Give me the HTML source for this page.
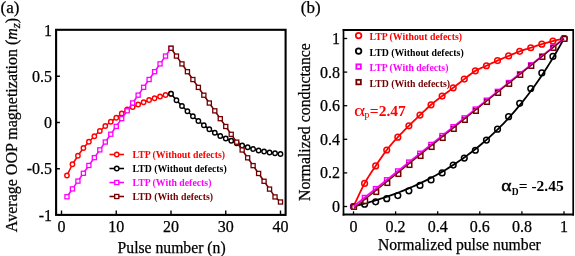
<!DOCTYPE html>
<html><head><meta charset="utf-8"><style>
html,body{margin:0;padding:0;background:#fff;}
svg{display:block;will-change:transform;}
text{font-family:"Liberation Serif",serif;}
.tk text{stroke:#000;stroke-width:0.25px;}
</style></head><body>
<svg width="575" height="256" viewBox="0 0 575 256">
<rect width="575" height="256" fill="#fff"/>
<polyline fill="none" stroke="#ff0000" stroke-width="1.55" stroke-linejoin="round" points="66.97,175.50 72.45,164.25 77.92,155.75 83.40,148.00 88.88,141.75 94.35,136.25 99.82,131.00 105.30,126.00 110.78,121.75 116.25,117.75 121.72,113.50 127.20,109.50 132.68,107.00 138.15,104.50 143.62,102.25 149.10,100.00 154.57,98.25 160.05,96.50 165.52,95.00 171.00,93.75"/>
<circle cx="66.97" cy="175.50" r="2.2" fill="#fff" stroke="#ff0000" stroke-width="1.4"/>
<circle cx="72.45" cy="164.25" r="2.2" fill="#fff" stroke="#ff0000" stroke-width="1.4"/>
<circle cx="77.92" cy="155.75" r="2.2" fill="#fff" stroke="#ff0000" stroke-width="1.4"/>
<circle cx="83.40" cy="148.00" r="2.2" fill="#fff" stroke="#ff0000" stroke-width="1.4"/>
<circle cx="88.88" cy="141.75" r="2.2" fill="#fff" stroke="#ff0000" stroke-width="1.4"/>
<circle cx="94.35" cy="136.25" r="2.2" fill="#fff" stroke="#ff0000" stroke-width="1.4"/>
<circle cx="99.82" cy="131.00" r="2.2" fill="#fff" stroke="#ff0000" stroke-width="1.4"/>
<circle cx="105.30" cy="126.00" r="2.2" fill="#fff" stroke="#ff0000" stroke-width="1.4"/>
<circle cx="110.78" cy="121.75" r="2.2" fill="#fff" stroke="#ff0000" stroke-width="1.4"/>
<circle cx="116.25" cy="117.75" r="2.2" fill="#fff" stroke="#ff0000" stroke-width="1.4"/>
<circle cx="121.72" cy="113.50" r="2.2" fill="#fff" stroke="#ff0000" stroke-width="1.4"/>
<circle cx="127.20" cy="109.50" r="2.2" fill="#fff" stroke="#ff0000" stroke-width="1.4"/>
<circle cx="132.68" cy="107.00" r="2.2" fill="#fff" stroke="#ff0000" stroke-width="1.4"/>
<circle cx="138.15" cy="104.50" r="2.2" fill="#fff" stroke="#ff0000" stroke-width="1.4"/>
<circle cx="143.62" cy="102.25" r="2.2" fill="#fff" stroke="#ff0000" stroke-width="1.4"/>
<circle cx="149.10" cy="100.00" r="2.2" fill="#fff" stroke="#ff0000" stroke-width="1.4"/>
<circle cx="154.57" cy="98.25" r="2.2" fill="#fff" stroke="#ff0000" stroke-width="1.4"/>
<circle cx="160.05" cy="96.50" r="2.2" fill="#fff" stroke="#ff0000" stroke-width="1.4"/>
<circle cx="165.52" cy="95.00" r="2.2" fill="#fff" stroke="#ff0000" stroke-width="1.4"/>
<circle cx="171.00" cy="93.75" r="2.2" fill="#fff" stroke="#ff0000" stroke-width="1.4"/>
<polyline fill="none" stroke="#ff00ff" stroke-width="1.55" stroke-linejoin="round" points="66.97,196.75 72.45,188.93 77.92,181.12 83.40,173.30 88.88,165.49 94.35,157.67 99.82,149.86 105.30,142.04 110.78,134.22 116.25,126.41 121.72,118.59 127.20,110.78 132.68,102.96 138.15,95.14 143.62,87.33 149.10,79.51 154.57,71.70 160.05,63.88 165.52,56.07 171.00,48.25"/>
<rect x="64.92" y="194.70" width="4.1" height="4.1" fill="#fff" stroke="#ff00ff" stroke-width="1.3"/>
<rect x="70.40" y="186.88" width="4.1" height="4.1" fill="#fff" stroke="#ff00ff" stroke-width="1.3"/>
<rect x="75.88" y="179.07" width="4.1" height="4.1" fill="#fff" stroke="#ff00ff" stroke-width="1.3"/>
<rect x="81.35" y="171.25" width="4.1" height="4.1" fill="#fff" stroke="#ff00ff" stroke-width="1.3"/>
<rect x="86.83" y="163.44" width="4.1" height="4.1" fill="#fff" stroke="#ff00ff" stroke-width="1.3"/>
<rect x="92.30" y="155.62" width="4.1" height="4.1" fill="#fff" stroke="#ff00ff" stroke-width="1.3"/>
<rect x="97.77" y="147.81" width="4.1" height="4.1" fill="#fff" stroke="#ff00ff" stroke-width="1.3"/>
<rect x="103.25" y="139.99" width="4.1" height="4.1" fill="#fff" stroke="#ff00ff" stroke-width="1.3"/>
<rect x="108.73" y="132.17" width="4.1" height="4.1" fill="#fff" stroke="#ff00ff" stroke-width="1.3"/>
<rect x="114.20" y="124.36" width="4.1" height="4.1" fill="#fff" stroke="#ff00ff" stroke-width="1.3"/>
<rect x="119.67" y="116.54" width="4.1" height="4.1" fill="#fff" stroke="#ff00ff" stroke-width="1.3"/>
<rect x="125.15" y="108.73" width="4.1" height="4.1" fill="#fff" stroke="#ff00ff" stroke-width="1.3"/>
<rect x="130.62" y="100.91" width="4.1" height="4.1" fill="#fff" stroke="#ff00ff" stroke-width="1.3"/>
<rect x="136.10" y="93.09" width="4.1" height="4.1" fill="#fff" stroke="#ff00ff" stroke-width="1.3"/>
<rect x="141.57" y="85.28" width="4.1" height="4.1" fill="#fff" stroke="#ff00ff" stroke-width="1.3"/>
<rect x="147.05" y="77.46" width="4.1" height="4.1" fill="#fff" stroke="#ff00ff" stroke-width="1.3"/>
<rect x="152.52" y="69.65" width="4.1" height="4.1" fill="#fff" stroke="#ff00ff" stroke-width="1.3"/>
<rect x="158.00" y="61.83" width="4.1" height="4.1" fill="#fff" stroke="#ff00ff" stroke-width="1.3"/>
<rect x="163.47" y="54.02" width="4.1" height="4.1" fill="#fff" stroke="#ff00ff" stroke-width="1.3"/>
<rect x="168.95" y="46.20" width="4.1" height="4.1" fill="#fff" stroke="#ff00ff" stroke-width="1.3"/>
<polyline fill="none" stroke="#000000" stroke-width="1.55" stroke-linejoin="round" points="171.00,93.75 176.47,100.25 181.95,106.00 187.43,111.25 192.90,116.25 198.38,121.00 203.85,125.25 209.32,129.25 214.80,132.75 220.27,136.00 225.75,138.50 231.22,140.75 236.70,143.25 242.17,145.50 247.65,147.25 253.12,149.00 258.60,150.50 264.07,151.50 269.55,152.50 275.02,153.25 280.50,154.00"/>
<circle cx="171.00" cy="93.75" r="2.2" fill="#fff" stroke="#000000" stroke-width="1.4"/>
<circle cx="176.47" cy="100.25" r="2.2" fill="#fff" stroke="#000000" stroke-width="1.4"/>
<circle cx="181.95" cy="106.00" r="2.2" fill="#fff" stroke="#000000" stroke-width="1.4"/>
<circle cx="187.43" cy="111.25" r="2.2" fill="#fff" stroke="#000000" stroke-width="1.4"/>
<circle cx="192.90" cy="116.25" r="2.2" fill="#fff" stroke="#000000" stroke-width="1.4"/>
<circle cx="198.38" cy="121.00" r="2.2" fill="#fff" stroke="#000000" stroke-width="1.4"/>
<circle cx="203.85" cy="125.25" r="2.2" fill="#fff" stroke="#000000" stroke-width="1.4"/>
<circle cx="209.32" cy="129.25" r="2.2" fill="#fff" stroke="#000000" stroke-width="1.4"/>
<circle cx="214.80" cy="132.75" r="2.2" fill="#fff" stroke="#000000" stroke-width="1.4"/>
<circle cx="220.27" cy="136.00" r="2.2" fill="#fff" stroke="#000000" stroke-width="1.4"/>
<circle cx="225.75" cy="138.50" r="2.2" fill="#fff" stroke="#000000" stroke-width="1.4"/>
<circle cx="231.22" cy="140.75" r="2.2" fill="#fff" stroke="#000000" stroke-width="1.4"/>
<circle cx="236.70" cy="143.25" r="2.2" fill="#fff" stroke="#000000" stroke-width="1.4"/>
<circle cx="242.17" cy="145.50" r="2.2" fill="#fff" stroke="#000000" stroke-width="1.4"/>
<circle cx="247.65" cy="147.25" r="2.2" fill="#fff" stroke="#000000" stroke-width="1.4"/>
<circle cx="253.12" cy="149.00" r="2.2" fill="#fff" stroke="#000000" stroke-width="1.4"/>
<circle cx="258.60" cy="150.50" r="2.2" fill="#fff" stroke="#000000" stroke-width="1.4"/>
<circle cx="264.07" cy="151.50" r="2.2" fill="#fff" stroke="#000000" stroke-width="1.4"/>
<circle cx="269.55" cy="152.50" r="2.2" fill="#fff" stroke="#000000" stroke-width="1.4"/>
<circle cx="275.02" cy="153.25" r="2.2" fill="#fff" stroke="#000000" stroke-width="1.4"/>
<circle cx="280.50" cy="154.00" r="2.2" fill="#fff" stroke="#000000" stroke-width="1.4"/>
<polyline fill="none" stroke="#730000" stroke-width="1.55" stroke-linejoin="round" points="171.00,48.25 176.47,56.08 181.95,63.90 187.43,71.72 192.90,79.55 198.38,87.38 203.85,95.20 209.32,103.03 214.80,110.85 220.27,118.67 225.75,126.50 231.22,134.32 236.70,142.15 242.17,149.98 247.65,157.80 253.12,165.62 258.60,173.45 264.07,181.28 269.55,189.10 275.02,196.93 280.50,202.00"/>
<rect x="168.95" y="46.20" width="4.1" height="4.1" fill="#fff" stroke="#730000" stroke-width="1.3"/>
<rect x="174.42" y="54.03" width="4.1" height="4.1" fill="#fff" stroke="#730000" stroke-width="1.3"/>
<rect x="179.90" y="61.85" width="4.1" height="4.1" fill="#fff" stroke="#730000" stroke-width="1.3"/>
<rect x="185.38" y="69.67" width="4.1" height="4.1" fill="#fff" stroke="#730000" stroke-width="1.3"/>
<rect x="190.85" y="77.50" width="4.1" height="4.1" fill="#fff" stroke="#730000" stroke-width="1.3"/>
<rect x="196.32" y="85.33" width="4.1" height="4.1" fill="#fff" stroke="#730000" stroke-width="1.3"/>
<rect x="201.80" y="93.15" width="4.1" height="4.1" fill="#fff" stroke="#730000" stroke-width="1.3"/>
<rect x="207.27" y="100.98" width="4.1" height="4.1" fill="#fff" stroke="#730000" stroke-width="1.3"/>
<rect x="212.75" y="108.80" width="4.1" height="4.1" fill="#fff" stroke="#730000" stroke-width="1.3"/>
<rect x="218.22" y="116.62" width="4.1" height="4.1" fill="#fff" stroke="#730000" stroke-width="1.3"/>
<rect x="223.70" y="124.45" width="4.1" height="4.1" fill="#fff" stroke="#730000" stroke-width="1.3"/>
<rect x="229.17" y="132.27" width="4.1" height="4.1" fill="#fff" stroke="#730000" stroke-width="1.3"/>
<rect x="234.65" y="140.10" width="4.1" height="4.1" fill="#fff" stroke="#730000" stroke-width="1.3"/>
<rect x="240.12" y="147.93" width="4.1" height="4.1" fill="#fff" stroke="#730000" stroke-width="1.3"/>
<rect x="245.60" y="155.75" width="4.1" height="4.1" fill="#fff" stroke="#730000" stroke-width="1.3"/>
<rect x="251.07" y="163.57" width="4.1" height="4.1" fill="#fff" stroke="#730000" stroke-width="1.3"/>
<rect x="256.55" y="171.40" width="4.1" height="4.1" fill="#fff" stroke="#730000" stroke-width="1.3"/>
<rect x="262.02" y="179.22" width="4.1" height="4.1" fill="#fff" stroke="#730000" stroke-width="1.3"/>
<rect x="267.50" y="187.05" width="4.1" height="4.1" fill="#fff" stroke="#730000" stroke-width="1.3"/>
<rect x="272.97" y="194.88" width="4.1" height="4.1" fill="#fff" stroke="#730000" stroke-width="1.3"/>
<rect x="278.45" y="199.95" width="4.1" height="4.1" fill="#fff" stroke="#730000" stroke-width="1.3"/>
<polyline fill="none" stroke="#ff0000" stroke-width="1.8" stroke-linejoin="round" points="353.50,206.50 354.35,204.68 355.49,202.21 356.84,199.28 358.35,196.03 359.94,192.65 361.55,189.31 363.12,186.16 364.58,183.38 365.96,180.92 367.35,178.58 368.73,176.35 370.12,174.20 371.50,172.10 372.89,170.04 374.27,167.98 375.66,165.91 377.04,163.83 378.43,161.75 379.81,159.69 381.20,157.66 382.58,155.67 383.97,153.72 385.35,151.82 386.74,149.99 388.12,148.22 389.51,146.52 390.89,144.88 392.28,143.28 393.66,141.71 395.05,140.17 396.43,138.65 397.82,137.14 399.20,135.65 400.59,134.20 401.97,132.77 403.36,131.36 404.74,129.97 406.12,128.59 407.51,127.22 408.89,125.84 410.28,124.46 411.66,123.09 413.05,121.73 414.43,120.38 415.82,119.04 417.20,117.70 418.59,116.37 419.97,115.05 421.36,113.73 422.74,112.41 424.13,111.09 425.51,109.78 426.90,108.49 428.28,107.22 429.67,105.98 431.05,104.78 432.44,103.61 433.82,102.47 435.21,101.36 436.59,100.28 437.98,99.21 439.36,98.15 440.75,97.10 442.13,96.04 443.52,94.99 444.90,93.96 446.29,92.94 447.67,91.93 449.06,90.92 450.44,89.90 451.83,88.87 453.21,87.82 454.60,86.75 455.98,85.66 457.37,84.56 458.75,83.45 460.13,82.35 461.52,81.25 462.90,80.16 464.29,79.09 465.67,78.01 467.06,76.92 468.44,75.83 469.83,74.75 471.21,73.70 472.60,72.69 473.98,71.74 475.37,70.87 476.75,70.08 478.14,69.37 479.52,68.71 480.91,68.11 482.29,67.52 483.68,66.94 485.06,66.35 486.45,65.73 487.83,65.08 489.22,64.43 490.60,63.78 491.99,63.13 493.37,62.48 494.76,61.84 496.14,61.21 497.53,60.59 498.91,59.99 500.30,59.40 501.68,58.82 503.07,58.25 504.45,57.68 505.84,57.11 507.22,56.54 508.61,55.97 509.99,55.38 511.38,54.79 512.76,54.19 514.14,53.59 515.53,53.00 516.91,52.43 518.30,51.87 519.68,51.34 521.07,50.85 522.45,50.37 523.84,49.92 525.22,49.48 526.61,49.05 527.99,48.62 529.38,48.19 530.76,47.75 532.15,47.29 533.53,46.84 534.92,46.38 536.30,45.92 537.69,45.46 539.07,45.01 540.46,44.58 541.84,44.15 543.23,43.74 544.61,43.33 546.00,42.94 547.38,42.55 548.77,42.16 550.15,41.79 551.54,41.43 552.92,41.07 554.38,40.71 555.95,40.33 557.56,39.95 559.15,39.59 560.66,39.25 562.01,38.95 563.15,38.69 564.00,38.50"/>
<circle cx="353.50" cy="206.50" r="2.85" fill="none" stroke="#ff0000" stroke-width="1.5"/>
<circle cx="364.58" cy="183.38" r="2.85" fill="none" stroke="#ff0000" stroke-width="1.5"/>
<circle cx="375.66" cy="165.91" r="2.85" fill="none" stroke="#ff0000" stroke-width="1.5"/>
<circle cx="386.74" cy="149.99" r="2.85" fill="none" stroke="#ff0000" stroke-width="1.5"/>
<circle cx="397.82" cy="137.14" r="2.85" fill="none" stroke="#ff0000" stroke-width="1.5"/>
<circle cx="408.89" cy="125.84" r="2.85" fill="none" stroke="#ff0000" stroke-width="1.5"/>
<circle cx="419.97" cy="115.05" r="2.85" fill="none" stroke="#ff0000" stroke-width="1.5"/>
<circle cx="431.05" cy="104.78" r="2.85" fill="none" stroke="#ff0000" stroke-width="1.5"/>
<circle cx="442.13" cy="96.04" r="2.85" fill="none" stroke="#ff0000" stroke-width="1.5"/>
<circle cx="453.21" cy="87.82" r="2.85" fill="none" stroke="#ff0000" stroke-width="1.5"/>
<circle cx="464.29" cy="79.09" r="2.85" fill="none" stroke="#ff0000" stroke-width="1.5"/>
<circle cx="475.37" cy="70.87" r="2.85" fill="none" stroke="#ff0000" stroke-width="1.5"/>
<circle cx="486.45" cy="65.73" r="2.85" fill="none" stroke="#ff0000" stroke-width="1.5"/>
<circle cx="497.53" cy="60.59" r="2.85" fill="none" stroke="#ff0000" stroke-width="1.5"/>
<circle cx="508.61" cy="55.97" r="2.85" fill="none" stroke="#ff0000" stroke-width="1.5"/>
<circle cx="519.68" cy="51.34" r="2.85" fill="none" stroke="#ff0000" stroke-width="1.5"/>
<circle cx="530.76" cy="47.75" r="2.85" fill="none" stroke="#ff0000" stroke-width="1.5"/>
<circle cx="541.84" cy="44.15" r="2.85" fill="none" stroke="#ff0000" stroke-width="1.5"/>
<circle cx="552.92" cy="41.07" r="2.85" fill="none" stroke="#ff0000" stroke-width="1.5"/>
<circle cx="564.00" cy="38.50" r="2.85" fill="none" stroke="#ff0000" stroke-width="1.5"/>
<polyline fill="none" stroke="#000000" stroke-width="1.8" stroke-linejoin="round" points="353.50,206.50 355.61,205.97 357.71,205.43 359.81,204.87 361.92,204.31 364.02,203.73 366.13,203.15 368.24,202.55 370.34,201.94 372.44,201.31 374.55,200.68 376.65,200.03 378.76,199.37 380.87,198.69 382.97,198.00 385.07,197.30 387.18,196.58 389.29,195.85 391.39,195.11 393.50,194.34 395.60,193.57 397.70,192.78 399.81,191.97 401.92,191.14 404.02,190.30 406.12,189.44 408.23,188.57 410.33,187.67 412.44,186.76 414.55,185.83 416.65,184.88 418.75,183.91 420.86,182.93 422.97,181.92 425.07,180.89 427.18,179.84 429.28,178.77 431.38,177.68 433.49,176.57 435.60,175.43 437.70,174.27 439.81,173.09 441.91,171.89 444.01,170.66 446.12,169.40 448.23,168.12 450.33,166.81 452.44,165.48 454.54,164.12 456.64,162.73 458.75,161.32 460.86,159.87 462.96,158.40 465.06,156.90 467.17,155.36 469.27,153.80 471.38,152.20 473.49,150.58 475.59,148.92 477.69,147.22 479.80,145.49 481.90,143.73 484.01,141.93 486.12,140.09 488.22,138.22 490.33,136.31 492.43,134.36 494.53,132.37 496.64,130.34 498.75,128.28 500.85,126.16 502.95,124.01 505.06,121.81 507.16,119.57 509.27,117.28 511.38,114.95 513.48,112.57 515.59,110.14 517.69,107.66 519.80,105.13 521.90,102.56 524.00,99.92 526.11,97.24 528.22,94.50 530.32,91.71 532.42,88.86 534.53,85.95 536.63,82.98 538.74,79.96 540.85,76.87 542.95,73.72 545.06,70.51 547.16,67.23 549.26,63.88 551.37,60.47 553.48,56.99 555.58,53.44 557.68,49.81 559.79,46.12 561.89,42.35 564.00,38.50"/>
<circle cx="564.00" cy="38.50" r="2.85" fill="none" stroke="#000000" stroke-width="1.5"/>
<circle cx="552.92" cy="56.47" r="2.85" fill="none" stroke="#000000" stroke-width="1.5"/>
<circle cx="541.84" cy="72.88" r="2.85" fill="none" stroke="#000000" stroke-width="1.5"/>
<circle cx="530.76" cy="88.51" r="2.85" fill="none" stroke="#000000" stroke-width="1.5"/>
<circle cx="519.68" cy="103.36" r="2.85" fill="none" stroke="#000000" stroke-width="1.5"/>
<circle cx="508.61" cy="116.64" r="2.85" fill="none" stroke="#000000" stroke-width="1.5"/>
<circle cx="497.53" cy="129.14" r="2.85" fill="none" stroke="#000000" stroke-width="1.5"/>
<circle cx="486.45" cy="140.08" r="2.85" fill="none" stroke="#000000" stroke-width="1.5"/>
<circle cx="475.37" cy="150.24" r="2.85" fill="none" stroke="#000000" stroke-width="1.5"/>
<circle cx="464.29" cy="158.05" r="2.85" fill="none" stroke="#000000" stroke-width="1.5"/>
<circle cx="453.21" cy="165.09" r="2.85" fill="none" stroke="#000000" stroke-width="1.5"/>
<circle cx="442.13" cy="172.90" r="2.85" fill="none" stroke="#000000" stroke-width="1.5"/>
<circle cx="431.05" cy="179.93" r="2.85" fill="none" stroke="#000000" stroke-width="1.5"/>
<circle cx="419.97" cy="185.40" r="2.85" fill="none" stroke="#000000" stroke-width="1.5"/>
<circle cx="408.89" cy="190.87" r="2.85" fill="none" stroke="#000000" stroke-width="1.5"/>
<circle cx="397.82" cy="195.56" r="2.85" fill="none" stroke="#000000" stroke-width="1.5"/>
<circle cx="386.74" cy="198.69" r="2.85" fill="none" stroke="#000000" stroke-width="1.5"/>
<circle cx="375.66" cy="201.81" r="2.85" fill="none" stroke="#000000" stroke-width="1.5"/>
<circle cx="364.58" cy="204.16" r="2.85" fill="none" stroke="#000000" stroke-width="1.5"/>
<circle cx="353.50" cy="206.50" r="2.85" fill="none" stroke="#000000" stroke-width="1.5"/>
<rect x="351.30" y="204.30" width="4.4" height="4.4" fill="none" stroke="#ff00ff" stroke-width="1.4"/>
<rect x="362.38" y="195.46" width="4.4" height="4.4" fill="none" stroke="#ff00ff" stroke-width="1.4"/>
<rect x="373.46" y="186.62" width="4.4" height="4.4" fill="none" stroke="#ff00ff" stroke-width="1.4"/>
<rect x="384.54" y="177.77" width="4.4" height="4.4" fill="none" stroke="#ff00ff" stroke-width="1.4"/>
<rect x="395.62" y="168.93" width="4.4" height="4.4" fill="none" stroke="#ff00ff" stroke-width="1.4"/>
<rect x="406.69" y="160.09" width="4.4" height="4.4" fill="none" stroke="#ff00ff" stroke-width="1.4"/>
<rect x="417.77" y="151.25" width="4.4" height="4.4" fill="none" stroke="#ff00ff" stroke-width="1.4"/>
<rect x="428.85" y="142.41" width="4.4" height="4.4" fill="none" stroke="#ff00ff" stroke-width="1.4"/>
<rect x="439.93" y="133.56" width="4.4" height="4.4" fill="none" stroke="#ff00ff" stroke-width="1.4"/>
<rect x="451.01" y="124.72" width="4.4" height="4.4" fill="none" stroke="#ff00ff" stroke-width="1.4"/>
<rect x="462.09" y="115.88" width="4.4" height="4.4" fill="none" stroke="#ff00ff" stroke-width="1.4"/>
<rect x="473.17" y="107.04" width="4.4" height="4.4" fill="none" stroke="#ff00ff" stroke-width="1.4"/>
<rect x="484.25" y="98.19" width="4.4" height="4.4" fill="none" stroke="#ff00ff" stroke-width="1.4"/>
<rect x="495.33" y="89.35" width="4.4" height="4.4" fill="none" stroke="#ff00ff" stroke-width="1.4"/>
<rect x="506.41" y="80.51" width="4.4" height="4.4" fill="none" stroke="#ff00ff" stroke-width="1.4"/>
<rect x="517.48" y="71.67" width="4.4" height="4.4" fill="none" stroke="#ff00ff" stroke-width="1.4"/>
<rect x="528.56" y="62.83" width="4.4" height="4.4" fill="none" stroke="#ff00ff" stroke-width="1.4"/>
<rect x="539.64" y="53.98" width="4.4" height="4.4" fill="none" stroke="#ff00ff" stroke-width="1.4"/>
<rect x="550.72" y="45.14" width="4.4" height="4.4" fill="none" stroke="#ff00ff" stroke-width="1.4"/>
<rect x="561.80" y="36.30" width="4.4" height="4.4" fill="none" stroke="#ff00ff" stroke-width="1.4"/>
<rect x="562.30" y="36.60" width="4.6000000000000005" height="4.6000000000000005" fill="#fff" stroke="#730000" stroke-width="1.5"/>
<rect x="551.22" y="45.61" width="4.6000000000000005" height="4.6000000000000005" fill="#fff" stroke="#730000" stroke-width="1.5"/>
<rect x="540.14" y="54.62" width="4.6000000000000005" height="4.6000000000000005" fill="#fff" stroke="#730000" stroke-width="1.5"/>
<rect x="529.06" y="63.63" width="4.6000000000000005" height="4.6000000000000005" fill="#fff" stroke="#730000" stroke-width="1.5"/>
<rect x="517.98" y="72.63" width="4.6000000000000005" height="4.6000000000000005" fill="#fff" stroke="#730000" stroke-width="1.5"/>
<rect x="506.91" y="81.64" width="4.6000000000000005" height="4.6000000000000005" fill="#fff" stroke="#730000" stroke-width="1.5"/>
<rect x="495.83" y="90.65" width="4.6000000000000005" height="4.6000000000000005" fill="#fff" stroke="#730000" stroke-width="1.5"/>
<rect x="484.75" y="99.66" width="4.6000000000000005" height="4.6000000000000005" fill="#fff" stroke="#730000" stroke-width="1.5"/>
<rect x="473.67" y="108.67" width="4.6000000000000005" height="4.6000000000000005" fill="#fff" stroke="#730000" stroke-width="1.5"/>
<rect x="462.59" y="117.68" width="4.6000000000000005" height="4.6000000000000005" fill="#fff" stroke="#730000" stroke-width="1.5"/>
<rect x="451.51" y="126.69" width="4.6000000000000005" height="4.6000000000000005" fill="#fff" stroke="#730000" stroke-width="1.5"/>
<rect x="440.43" y="135.70" width="4.6000000000000005" height="4.6000000000000005" fill="#fff" stroke="#730000" stroke-width="1.5"/>
<rect x="429.35" y="144.70" width="4.6000000000000005" height="4.6000000000000005" fill="#fff" stroke="#730000" stroke-width="1.5"/>
<rect x="418.27" y="153.71" width="4.6000000000000005" height="4.6000000000000005" fill="#fff" stroke="#730000" stroke-width="1.5"/>
<rect x="407.19" y="162.72" width="4.6000000000000005" height="4.6000000000000005" fill="#fff" stroke="#730000" stroke-width="1.5"/>
<rect x="396.12" y="171.73" width="4.6000000000000005" height="4.6000000000000005" fill="#fff" stroke="#730000" stroke-width="1.5"/>
<rect x="385.04" y="180.74" width="4.6000000000000005" height="4.6000000000000005" fill="#fff" stroke="#730000" stroke-width="1.5"/>
<rect x="373.96" y="189.75" width="4.6000000000000005" height="4.6000000000000005" fill="#fff" stroke="#730000" stroke-width="1.5"/>
<rect x="362.88" y="198.76" width="4.6000000000000005" height="4.6000000000000005" fill="#fff" stroke="#730000" stroke-width="1.5"/>
<rect x="351.80" y="204.60" width="4.6000000000000005" height="4.6000000000000005" fill="#fff" stroke="#730000" stroke-width="1.5"/>
<polyline fill="none" stroke="#ff00ff" stroke-width="1.9" stroke-linejoin="round" points="353.50,206.50 564.00,38.50"/>
<polyline fill="none" stroke="#730000" stroke-width="1.1" stroke-linejoin="round" points="354.00,208.30 564.00,38.70"/>
<rect x="56.1" y="29.8" width="229.5" height="185.1" fill="none" stroke="#000" stroke-width="2.1"/>
<line x1="61.50" y1="214" x2="61.50" y2="210.5" stroke="#000" stroke-width="1.4"/>
<line x1="116.25" y1="214" x2="116.25" y2="210.5" stroke="#000" stroke-width="1.4"/>
<line x1="171.00" y1="214" x2="171.00" y2="210.5" stroke="#000" stroke-width="1.4"/>
<line x1="225.75" y1="214" x2="225.75" y2="210.5" stroke="#000" stroke-width="1.4"/>
<line x1="280.50" y1="214" x2="280.50" y2="210.5" stroke="#000" stroke-width="1.4"/>
<line x1="57" y1="76.25" x2="59.9" y2="76.25" stroke="#000" stroke-width="1.5"/>
<line x1="57" y1="122.50" x2="59.9" y2="122.50" stroke="#000" stroke-width="1.5"/>
<line x1="57" y1="168.75" x2="59.9" y2="168.75" stroke="#000" stroke-width="1.5"/>
<line x1="343.5" y1="29" x2="343.5" y2="215.6" stroke="#000" stroke-width="1.7"/>
<line x1="573.2" y1="29" x2="573.2" y2="215.6" stroke="#000" stroke-width="1.7"/>
<line x1="342.7" y1="30" x2="574" y2="30" stroke="#000" stroke-width="2"/>
<line x1="342.7" y1="214.6" x2="574" y2="214.6" stroke="#000" stroke-width="2"/>
<line x1="353.50" y1="214" x2="353.50" y2="211.3" stroke="#000" stroke-width="1.3"/>
<line x1="344" y1="206.50" x2="347.2" y2="206.50" stroke="#000" stroke-width="1.3"/>
<line x1="395.60" y1="214" x2="395.60" y2="211.3" stroke="#000" stroke-width="1.3"/>
<line x1="344" y1="172.90" x2="347.2" y2="172.90" stroke="#000" stroke-width="1.3"/>
<line x1="437.70" y1="214" x2="437.70" y2="211.3" stroke="#000" stroke-width="1.3"/>
<line x1="344" y1="139.30" x2="347.2" y2="139.30" stroke="#000" stroke-width="1.3"/>
<line x1="479.80" y1="214" x2="479.80" y2="211.3" stroke="#000" stroke-width="1.3"/>
<line x1="344" y1="105.70" x2="347.2" y2="105.70" stroke="#000" stroke-width="1.3"/>
<line x1="521.90" y1="214" x2="521.90" y2="211.3" stroke="#000" stroke-width="1.3"/>
<line x1="344" y1="72.10" x2="347.2" y2="72.10" stroke="#000" stroke-width="1.3"/>
<line x1="564.00" y1="214" x2="564.00" y2="211.3" stroke="#000" stroke-width="1.3"/>
<line x1="344" y1="38.50" x2="347.2" y2="38.50" stroke="#000" stroke-width="1.3"/>
<g class="tk">
<text x="61.50" y="232" text-anchor="middle" font-size="16" >0</text>
<text x="116.25" y="232" text-anchor="middle" font-size="16" >10</text>
<text x="171.00" y="232" text-anchor="middle" font-size="16" >20</text>
<text x="225.75" y="232" text-anchor="middle" font-size="16" >30</text>
<text x="280.50" y="232" text-anchor="middle" font-size="16" >40</text>
<text x="52" y="35.50" text-anchor="end" font-size="16" >1</text>
<text x="52" y="81.75" text-anchor="end" font-size="16" >0.5</text>
<text x="52" y="128.00" text-anchor="end" font-size="16" >0</text>
<text x="52" y="174.25" text-anchor="end" font-size="16" >-0.5</text>
<text x="52" y="220.50" text-anchor="end" font-size="16" >-1</text>
<text x="171.6" y="252.5" text-anchor="middle" font-size="15.7" >Pulse number (n)</text>
<text transform="translate(17,125) rotate(-90)" text-anchor="middle" font-size="16">Average OOP magnetization (<tspan font-style="italic">m</tspan><tspan font-style="italic" font-size="13" dy="2.5">z</tspan><tspan dy="-2.5">)</tspan></text>
<text x="0.5" y="12.8" text-anchor="start" font-size="17" >(a)</text>
<text x="300.8" y="13" text-anchor="start" font-size="17" >(b)</text>
<text x="353.50" y="232" text-anchor="middle" font-size="16" >0</text>
<text x="340" y="212.00" text-anchor="end" font-size="16" >0</text>
<text x="395.60" y="232" text-anchor="middle" font-size="16" >0.2</text>
<text x="340" y="178.40" text-anchor="end" font-size="16" >0.2</text>
<text x="437.70" y="232" text-anchor="middle" font-size="16" >0.4</text>
<text x="340" y="144.80" text-anchor="end" font-size="16" >0.4</text>
<text x="479.80" y="232" text-anchor="middle" font-size="16" >0.6</text>
<text x="340" y="111.20" text-anchor="end" font-size="16" >0.6</text>
<text x="521.90" y="232" text-anchor="middle" font-size="16" >0.8</text>
<text x="340" y="77.60" text-anchor="end" font-size="16" >0.8</text>
<text x="564.00" y="232" text-anchor="middle" font-size="16" >1</text>
<text x="340" y="44.00" text-anchor="end" font-size="16" >1</text>
<text x="459.4" y="250" text-anchor="middle" font-size="15.7" >Normalized pulse number</text>
<text transform="translate(310.2,122.1) rotate(-90)" text-anchor="middle" font-size="15.85">Normalized conductance</text>
</g>
<polyline fill="none" stroke="#ff0000" stroke-width="1.55" stroke-linejoin="round" points="109.50,154.50 124.00,154.50"/>
<circle cx="116.75" cy="154.50" r="2.2" fill="#fff" stroke="#ff0000" stroke-width="1.4"/>
<text x="132.5" y="158.10" font-size="9.8" font-weight="bold" fill="#ff0000">LTP (Without defects)</text>
<polyline fill="none" stroke="#000000" stroke-width="1.55" stroke-linejoin="round" points="109.50,168.50 124.00,168.50"/>
<circle cx="116.75" cy="168.50" r="2.2" fill="#fff" stroke="#000000" stroke-width="1.4"/>
<text x="132.5" y="172.10" font-size="9.8" font-weight="bold" fill="#000000">LTD (Without defects)</text>
<polyline fill="none" stroke="#ff00ff" stroke-width="1.55" stroke-linejoin="round" points="109.50,182.50 124.00,182.50"/>
<rect x="114.70" y="180.45" width="4.1" height="4.1" fill="#fff" stroke="#ff00ff" stroke-width="1.3"/>
<text x="132.5" y="186.10" font-size="9.8" font-weight="bold" fill="#ff00ff">LTP (With defects)</text>
<polyline fill="none" stroke="#730000" stroke-width="1.55" stroke-linejoin="round" points="109.50,196.50 124.00,196.50"/>
<rect x="114.70" y="194.45" width="4.1" height="4.1" fill="#fff" stroke="#730000" stroke-width="1.3"/>
<text x="132.5" y="200.10" font-size="9.8" font-weight="bold" fill="#730000">LTD (With defects)</text>
<circle cx="358.60" cy="35.60" r="2.8" fill="#fff" stroke="#ff0000" stroke-width="1.8"/>
<text x="369.5" y="40.10" font-size="9.8" font-weight="bold" fill="#ff0000">LTP (Without defects)</text>
<circle cx="358.60" cy="51.10" r="2.8" fill="#fff" stroke="#000000" stroke-width="1.8"/>
<text x="369.5" y="55.60" font-size="9.8" font-weight="bold" fill="#000000">LTD (Without defects)</text>
<rect x="356.35" y="64.35" width="4.5" height="4.5" fill="#fff" stroke="#ff00ff" stroke-width="1.8"/>
<text x="369.5" y="71.10" font-size="9.8" font-weight="bold" fill="#ff00ff">LTP (With defects)</text>
<rect x="356.35" y="79.85" width="4.5" height="4.5" fill="#fff" stroke="#730000" stroke-width="1.8"/>
<text x="369.5" y="86.60" font-size="9.8" font-weight="bold" fill="#730000">LTD (With defects)</text>
<text transform="translate(354.0,116.3) scale(1.22,1)" font-size="17.5" fill="#ff0000" >α</text>
<text x="363.9" y="119.5" font-size="10" fill="#ff0000" >P</text>
<text x="369.8" y="115.6" font-size="15.5" font-weight="bold" fill="#ff0000">=2.47</text>
<text transform="translate(501.2,190.6) scale(1.12,1)" font-size="17.5" fill="#000000" stroke="#000" stroke-width="0.45">α</text>
<text x="511.8" y="194.6" font-size="9.5" fill="#000000" font-weight="bold">D</text>
<text x="518.7" y="190.8" font-size="15.5" font-weight="bold" fill="#000000">= -2.45</text>
</svg>
</body></html>
